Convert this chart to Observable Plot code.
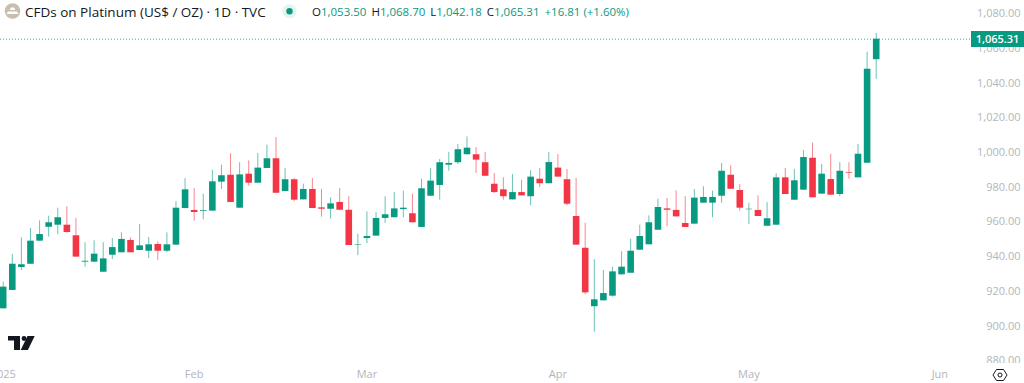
<!DOCTYPE html>
<html>
<head>
<meta charset="utf-8">
<script src="https://cdn.jsdelivr.net/npm/d3@7"></script>
<script src="https://cdn.jsdelivr.net/npm/@observablehq/plot@0.6"></script>
<style>
html,body{margin:0;padding:0;background:#fff;}
#wrap{position:relative;width:1024px;height:383px;overflow:hidden;font-family:"Open Sans",sans-serif;}
#title{position:absolute;left:25px;top:2px;font-size:13.5px;line-height:20px;color:#131722;white-space:nowrap;}
#ohlc{position:absolute;left:312px;top:1.5px;font-size:11.5px;line-height:20px;color:#089981;white-space:nowrap;}
#ohlc b{font-weight:400;color:#131722;}
#ohlc span{margin-right:5px;}
#last{position:absolute;left:971px;width:53px;height:16px;background:#089981;color:#fff;font-size:11px;font-weight:600;line-height:16px;text-align:center;}
svg.icon{position:absolute;overflow:visible;}
</style>
</head>
<body>
<div id="wrap"></div>
<script>
const opens=[909.9,920.5,933.7,935.6,948.9,956.9,958.1,958.1,952.0,936.8,936.8,931.0,940.8,942.2,949.3,943.5,943.1,947.0,943.1,946.6,967.7,966.6,966.0,966.2,982.9,986.9,967.9,987.5,982.3,990.8,996.4,977.5,984.3,972.7,978.7,968.1,967.3,971.2,966.7,946.4,950.4,951.8,962.0,962.4,967.1,964.7,956.8,974.8,981.0,992.7,994.1,998.7,998.7,994.1,981.7,978.5,972.7,976.9,974.5,984.6,982.0,991.0,984.3,963.1,944.8,911.1,914.5,917.2,929.5,930.4,943.7,946.8,955.2,967.5,966.6,959.1,958.7,970.8,970.8,974.8,986.9,978.1,967.0,966.6,957.5,958.1,985.4,972.5,978.3,996.7,976.0,984.4,975.8,988.5,985.4,993.8,1053.5];
const closes=[922.4,935.6,935.3,948.9,952.7,959.5,962.4,953.9,939.7,937.3,941.4,938.7,945.2,949.9,942.2,946.2,946.8,943.1,946.8,967.9,978.5,965.4,966.4,983.1,986.6,971.2,987.1,982.3,991.0,996.4,976.5,984.3,972.5,978.7,967.7,967.3,970.4,966.7,946.4,946.7,951.6,962.0,964.1,967.5,967.9,959.5,979.1,983.5,994.1,993.7,1001.6,1002.5,995.6,986.3,976.9,974.5,976.9,975.0,985.8,982.0,994.2,985.8,970.2,946.6,919.1,915.1,918.7,931.2,933.9,943.1,951.6,959.5,968.3,966.7,962.9,956.8,973.7,974.1,974.1,989.2,978.8,967.9,967.3,963.1,961.8,985.4,975.8,983.7,997.1,973.9,987.5,975.4,989.2,988.1,999.0,1048.0,1065.31];
const highs=[925.2,941.2,950.8,956.2,960.6,963.3,967.9,968.7,962.0,948.0,949.1,948.0,950.4,953.7,950.8,958.5,951.0,948.5,953.7,971.6,985.0,979.2,976.0,989.8,992.7,999.3,994.1,995.2,999.4,1004.2,1008.6,990.8,985.0,981.7,985.0,978.7,973.9,979.2,974.5,952.9,965.8,965.4,974.5,976.9,977.7,976.0,984.6,990.8,996.0,1000.0,1004.6,1009.0,1002.9,1000.0,987.9,985.4,987.3,984.0,989.5,990.8,1000.0,998.8,990.2,985.0,959.2,938.2,932.0,933.9,942.8,950.0,958.1,963.5,973.1,973.5,977.9,974.5,978.7,980.2,977.7,993.7,992.3,981.6,970.8,975.0,971.2,987.7,990.8,990.2,1001.2,1005.4,993.1,999.0,994.2,994.1,1004.6,1057.8,1068.7];
const lows=[909.9,920.5,932.0,935.4,948.9,951.2,952.7,953.5,939.7,933.9,936.6,931.0,938.3,942.2,942.2,943.5,938.9,937.7,942.2,946.6,967.7,960.4,961.2,966.2,978.7,971.2,967.9,980.6,982.3,990.8,976.5,977.5,971.6,972.7,967.7,962.7,961.6,966.7,946.4,940.6,947.5,951.8,959.1,962.4,962.4,959.5,956.8,974.8,972.5,989.2,993.1,998.7,987.9,986.3,976.4,972.5,972.7,975.0,969.3,979.7,982.0,985.8,969.3,946.6,918.0,896.4,914.5,916.6,929.5,930.4,943.7,946.8,955.2,957.2,962.9,956.8,958.7,970.8,962.4,970.8,978.8,966.2,958.5,963.1,957.5,958.1,975.8,972.5,978.3,973.9,976.0,975.4,974.5,984.6,985.4,993.8,1042.18];
const yTicks=[880,900,920,940,960,980,1000,1020,1040,1060,1080];
const monthBars=[0,21,40,61,82,103];
const monthLabels=["2025","Feb","Mar","Apr","May","Jun"];
const lastPrice=1065.31;
const titleText="CFDs on Platinum (US$ / OZ) · 1D · TVC";

const UP="#089981", DOWN="#f23645", MUTED="#b2b5be";
const bars=opens.map((o,i)=>({i,o,c:closes[i],h:highs[i],l:lows[i]}));
const col=d=>d.c>=d.o?UP:DOWN;

const chart=Plot.plot({
  width:1024,height:383,
  marginTop:0,marginLeft:0,marginRight:0,marginBottom:20,
  x:{type:"linear",domain:[0,96],range:[2.7,875.7],axis:null},
  y:{domain:[880,1080],range:[360.2,13.2],axis:null},
  style:{background:"#fff",fontFamily:"'Open Sans',sans-serif"},
  marks:[
    Plot.text(yTicks,{y:d=>d,frameAnchor:"right",dx:-4,textAnchor:"end",text:d3.format(",.2f"),fill:MUTED,fontSize:11,clip:true}),
    Plot.ruleY([lastPrice],{stroke:UP,strokeWidth:1,strokeDasharray:"1 2",strokeOpacity:.8}),
    Plot.ruleX(bars,{x:"i",y1:"l",y2:"h",stroke:col,strokeWidth:1,strokeOpacity:.6}),
    Plot.ruleX(bars,{x:"i",y1:"o",y2:"c",stroke:col,strokeWidth:6.6}),
    Plot.axisX({anchor:"bottom",ticks:monthBars,tickSize:0,tickPadding:7,tickFormat:(d)=>monthLabels[monthBars.indexOf(d)],fill:MUTED,fontSize:11,labelArrow:"none",label:null})
  ]
});
const wrap=document.getElementById("wrap");
wrap.appendChild(chart);
chart.style.position="absolute";chart.style.left="0";chart.style.top="0";

const title=document.createElement("div");title.id="title";title.textContent=titleText;wrap.appendChild(title);

const ohlc=document.createElement("div");ohlc.id="ohlc";
ohlc.innerHTML='<span><b>O</b>1,053.50</span><span><b>H</b>1,068.70</span><span><b>L</b>1,042.18</span><span><b>C</b>1,065.31</span><span>+16.81 (+1.60%)</span>';
wrap.appendChild(ohlc);

const last=document.createElement("div");last.id="last";last.textContent=d3.format(",.2f")(lastPrice);
last.style.top=(chart.scale("y").apply(lastPrice)-7.5)+"px";wrap.appendChild(last);

wrap.insertAdjacentHTML("beforeend",`
<svg class="icon" style="left:0;top:0" width="1024" height="383" viewBox="0 0 1024 383">
  <circle cx="12.500" cy="11" r="7.800" fill="#c9bdb0"/>
  <path d="M9.500 10l1.500-2.500h3l1.500 2.500zM6.500 14l1.500-2.500h9l1.500 2.500z" fill="#fff"/>
  <circle cx="289.500" cy="11.300" r="7" fill="#e3f4f1"/>
  <circle cx="289.500" cy="11.300" r="3.200" fill="#089981"/>
  <path d="M8 336h12v14h-6v-9.500h-6z" fill="#131722"/>
  <circle cx="24" cy="338.500" r="2.400" fill="#131722"/>
  <path d="M27.500 336h7.200l-6.800 14h-7.200z" fill="#131722"/>
  <path d="M996.500 369.500h7l3.500 5.500-3.500 5.500h-7l-3.500-5.500z" fill="none" stroke="#131722" stroke-width="1" stroke-linejoin="round"/>
  <circle cx="1000" cy="375" r="2" fill="none" stroke="#131722" stroke-width="1"/>
</svg>`);
</script>
</body>
</html>
